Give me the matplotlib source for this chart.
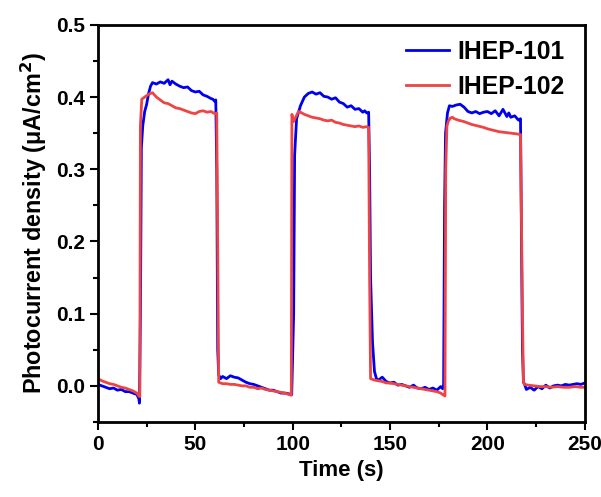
import matplotlib
matplotlib.use("Agg")
import matplotlib.pyplot as plt
from matplotlib.ticker import MultipleLocator, FormatStrFormatter

plt.rcParams['font.family'] = ['Liberation Sans', 'DejaVu Sans']
plt.rcParams['font.weight'] = 'bold'

# IHEP-101 (blue)
t_101 = [0, 2, 4, 6, 8, 10, 12, 14, 16, 18,
         20, 21, 21.3, 21.8, 22.3, 23, 24, 25, 26, 27,
         28, 30, 32, 34, 36, 37, 38, 40, 42, 44,
         46, 48, 50, 52, 54, 56, 58, 59, 60, 60.5,
         61, 61.5, 62, 63, 64, 66, 68, 70, 72, 74,
         76, 78, 80, 82, 84, 86, 88, 90, 92, 94,
         96, 98, 99.5, 100.5, 101, 102, 104, 106, 108, 110,
         112, 114, 116, 118, 120, 122, 124, 126, 128, 130,
         132, 134, 136, 137, 138, 139, 139.5, 140, 141, 142,
         143, 144, 146, 148, 150, 152, 154, 156, 158, 160,
         162, 164, 166, 168, 170, 172, 174, 176, 177, 177.5,
         178, 178.5, 179.5, 180.5, 182, 184, 186, 188, 190, 192,
         194, 196, 198, 200, 202, 204, 206, 208, 210, 211,
         212, 214, 216, 217, 217.5, 218, 218.5, 219, 220, 222,
         224, 226, 228, 230, 232, 234, 236, 238, 240, 242,
         244, 246, 248, 250]
v_101 = [0.002, 0.000, -0.002, -0.004, -0.003, -0.006, -0.005, -0.008, -0.008, -0.010,
         -0.012, -0.018, -0.024, 0.10, 0.33, 0.36, 0.38, 0.39, 0.405, 0.415,
         0.420, 0.418, 0.421, 0.419, 0.424, 0.417, 0.422, 0.418, 0.415, 0.413,
         0.414, 0.409, 0.407, 0.408, 0.403, 0.401, 0.398, 0.397, 0.394, 0.396,
         0.30, 0.05, 0.015, 0.010, 0.013, 0.010, 0.014, 0.012, 0.011, 0.008,
         0.005, 0.003, 0.002, 0.000, -0.002, -0.004, -0.006, -0.006, -0.008, -0.010,
         -0.010, -0.011, -0.012, 0.10, 0.32, 0.37, 0.388, 0.400, 0.405, 0.407,
         0.404, 0.406, 0.401, 0.400, 0.397, 0.399, 0.393, 0.391, 0.386, 0.388,
         0.383, 0.384, 0.379, 0.381, 0.378, 0.379, 0.30, 0.15, 0.06, 0.02,
         0.010, 0.008, 0.012, 0.006, 0.004, 0.005, 0.001, 0.002, 0.000, -0.002,
         0.001, -0.003, -0.004, -0.002, -0.005, -0.003, -0.006, -0.001, -0.004, 0.002,
         0.25, 0.35, 0.378, 0.388, 0.387, 0.389, 0.390, 0.386, 0.380, 0.378,
         0.380, 0.377, 0.379, 0.380, 0.377, 0.381, 0.374, 0.383, 0.373, 0.378,
         0.372, 0.374, 0.368, 0.370, 0.20, 0.05, 0.005, 0.003, -0.005, -0.002,
         -0.006, -0.001, -0.004, 0.001, -0.003, 0.000, 0.001, 0.000, 0.002, 0.001,
         0.002, 0.003, 0.002, 0.004]

# IHEP-102 (red)
t_102 = [0, 2, 4, 6, 8, 10, 12, 14, 16, 18,
         20, 21, 21.5, 21.8, 22.5, 24, 26, 28, 30, 32,
         34, 36, 38, 40, 42, 44, 46, 48, 50, 52,
         54, 56, 58, 60, 61, 61.5, 62, 64, 66, 68,
         70, 72, 74, 76, 78, 80, 82, 84, 86, 88,
         90, 92, 94, 96, 98, 99.3, 99.6, 100.4, 101.5, 103,
         104, 106, 108, 110, 112, 114, 116, 118, 120, 122,
         124, 126, 128, 130, 132, 134, 136, 138, 139, 139.5,
         140, 142, 144, 146, 148, 150, 152, 154, 156, 158,
         160, 162, 164, 166, 168, 170, 172, 174, 176, 177,
         178.2, 178.6, 179.2, 180, 181, 182, 183, 185, 188, 190,
         192, 195, 198, 200, 203, 206, 209, 212, 215, 217,
         218, 218.5, 219, 221, 224, 227, 230, 233, 236, 239,
         242, 245, 248, 250]
v_102 = [0.010, 0.007, 0.005, 0.003, 0.002, 0.000, -0.002, -0.003, -0.005, -0.007,
         -0.010, -0.014, -0.015, 0.36, 0.397, 0.400, 0.404, 0.406, 0.400, 0.396,
         0.392, 0.391, 0.388, 0.385, 0.384, 0.382, 0.380, 0.378, 0.377, 0.380,
         0.381, 0.379, 0.380, 0.377, 0.378, 0.20, 0.005, 0.003, 0.003, 0.002,
         0.002, 0.001, 0.000, 0.000, -0.002, -0.002, -0.004, -0.003, -0.005, -0.006,
         -0.007, -0.008, -0.009, -0.010, -0.012, -0.013, 0.376, 0.366, 0.372, 0.380,
         0.379, 0.376, 0.374, 0.372, 0.371, 0.370, 0.368, 0.367, 0.368, 0.365,
         0.364, 0.362, 0.361, 0.360, 0.359, 0.360, 0.358, 0.359, 0.358, 0.15,
         0.010, 0.008, 0.007, 0.006, 0.004, 0.004, 0.003, 0.002, 0.001, 0.000,
         -0.001, -0.002, -0.003, -0.004, -0.005, -0.006, -0.007, -0.008, -0.010, -0.012,
         -0.014, 0.30, 0.36, 0.367, 0.371, 0.372, 0.370, 0.368, 0.366, 0.364,
         0.362, 0.360, 0.358, 0.356, 0.354, 0.352, 0.351, 0.350, 0.349, 0.348,
         0.10, 0.005, 0.002, 0.001, 0.000, -0.001, -0.001, -0.002, -0.001, -0.002,
         -0.002, -0.001, -0.002, -0.002]

fig = plt.figure(figsize=(6.01, 4.97), dpi=100)
ax = fig.add_axes([0.163, 0.151, 0.81, 0.799])

ax.plot(t_101, v_101, color='#0000EE', lw=2, label='IHEP-101')
ax.plot(t_102, v_102, color='#EE4444', lw=2, label='IHEP-102')

ax.set_xlim(0, 250)
ax.set_ylim(-0.05, 0.5)
ax.xaxis.set_major_locator(MultipleLocator(50))
ax.xaxis.set_minor_locator(MultipleLocator(25))
ax.yaxis.set_major_locator(MultipleLocator(0.1))
ax.yaxis.set_minor_locator(MultipleLocator(0.05))
ax.yaxis.set_major_formatter(FormatStrFormatter('%.1f'))

for s in ax.spines.values():
    s.set_linewidth(2)
ax.tick_params(which='both', direction='out', top=False, right=False, width=1.5, labelsize=15)
ax.tick_params(which='major', length=6)
ax.tick_params(which='minor', length=3.5)
for lab in ax.get_xticklabels() + ax.get_yticklabels():
    lab.set_fontweight('bold')

ax.set_xlabel('Time (s)', fontsize=16, fontweight='bold', labelpad=4)
ax.set_ylabel('Photocurrent density (\u03bcA/cm$^\\mathbf{2}$)', fontsize=16.8, fontweight='bold', labelpad=5)

leg = ax.legend(loc='upper right', bbox_to_anchor=(0.99, 1.0), frameon=False,
                prop={'size': 17.8, 'weight': 'bold'},
                handlelength=1.75, handletextpad=0.35, labelspacing=0.45,
                borderaxespad=0.2)

fig.savefig('out.png', dpi=100)
